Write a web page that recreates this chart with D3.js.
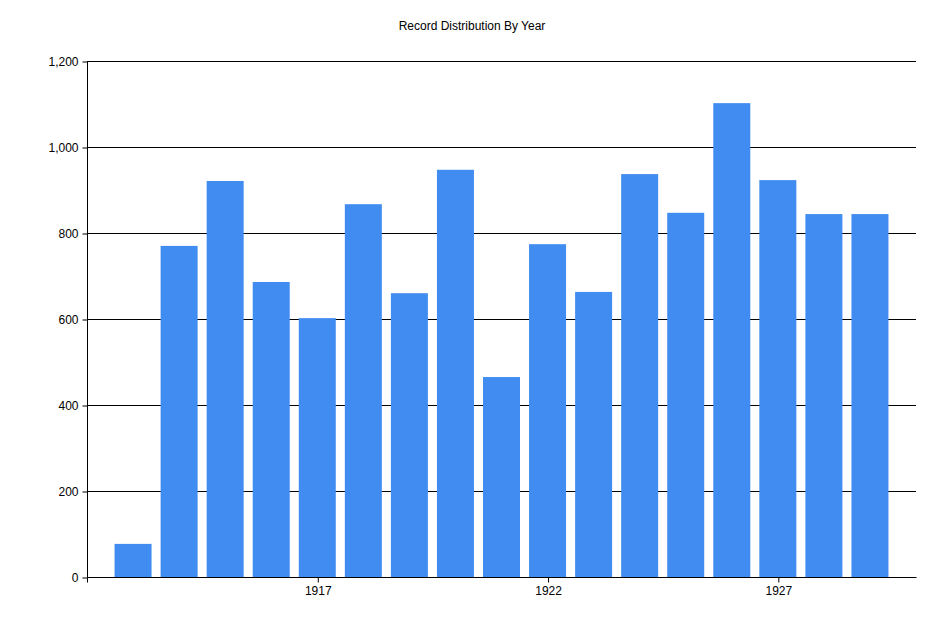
<!DOCTYPE html>
<html><head><meta charset="utf-8">
<script src="https://cdn.jsdelivr.net/npm/d3@7"></script>
<style>body{margin:0;background:#fff}</style>
</head><body>
<svg width="945" height="630"></svg>
<script>
let years = [1913,1914,1915,1916,1917,1918,1919,1920,1921,1922,1923,1924,1925,1926,1927,1928,1929];
let counts = [77,770,921,686,602,867,660,947,465,774,663,937,847,1102,923,844,844];
let yTicks = [0,200,400,600,800,1000,1200];
let xTicks = [1917,1922,1927];

let svg = d3.select('svg');
let x = d3.scaleLinear().domain([1912,1930]).range([87,916]);
let y = d3.scaleLinear().domain([0,1200]).range([577,61]);
let font = "'Liberation Sans', Arial, sans-serif";

svg.append('text').attr('x',472).attr('y',30).attr('text-anchor','middle')
  .attr('font-family',font).attr('font-size',12).text('Record Distribution By Year');

// gridlines
svg.selectAll('line.grid').data(yTicks.slice(1)).enter().append('line')
  .attr('x1',87).attr('x2',916)
  .attr('y1',d=>y(d)+0.5).attr('y2',d=>y(d)+0.5)
  .attr('stroke','#000');

svg.selectAll('rect').data(years).enter().append('rect')
  .attr('x',d=>x(d)-18.5).attr('width',37)
  .attr('y',(d,i)=>y(counts[i])).attr('height',(d,i)=>y(0)-y(counts[i]))
  .attr('fill','#418cf0');

let yAxis = svg.append('g').attr('transform','translate(87.5,0.5)')
  .call(d3.axisLeft(y).tickValues(yTicks).tickSize(5).tickPadding(4));
yAxis.select('.domain').attr('d','M0,61V577');

let xAxis = svg.append('g').attr('transform','translate(0.5,577.5)')
  .call(d3.axisBottom(x).tickValues(xTicks).tickFormat(d3.format('d')).tickSize(5).tickPadding(4));
xAxis.select('.domain').attr('d','M87,5V0H916');

svg.selectAll('.tick text').attr('font-family',font).attr('font-size',12).attr('fill','#000');
svg.selectAll('.domain,.tick line').attr('stroke','#000');
</script>
</body></html>
